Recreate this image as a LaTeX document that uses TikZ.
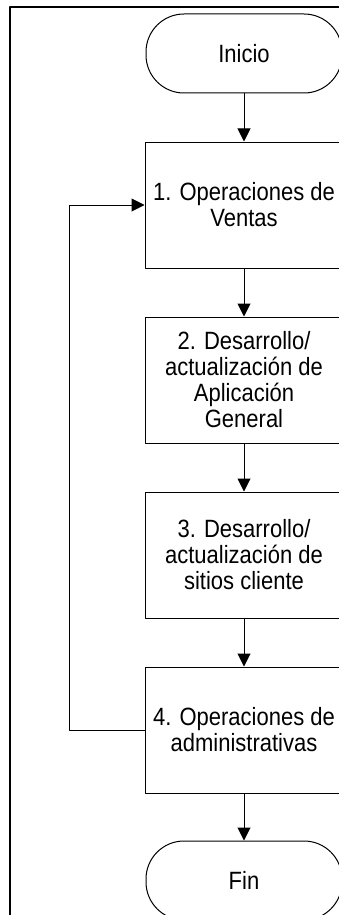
\documentclass[tikz,border=0pt]{standalone}
\usepackage{fontspec}
\setmainfont{Liberation Sans}[FakeStretch=0.88]
\usetikzlibrary{positioning,arrows.meta}

\begin{document}
\begin{tikzpicture}[x=1pt, y=-1pt, line join=round,
  caja/.style={draw, line width=1pt, minimum width=198pt, minimum height=126pt,
    align=center, inner sep=0pt, font=\fontsize{25}{26}\selectfont},
  terminal/.style={caja, minimum width=196pt, minimum height=79pt, rounded corners=38pt},
  flecha/.style={line width=1pt, -{Triangle[width=13pt,length=13pt]}}]
\useasboundingbox (0,0) rectangle (339,915);
\clip (0,0) rectangle (339,915);
\draw[line width=2.5pt] (10,915)--(10,7)--(339,7); % marco
\node[terminal] (inicio) at (244,53.5) {Inicio};
\node[caja, below=48pt of inicio] (op1) {1. Operaciones de\\Ventas};
\node[caja, below=48pt of op1] (op2) {2. Desarrollo/\\actualización de\\Aplicación\\General};
\node[caja, below=48pt of op2] (op3) {3. Desarrollo/\\actualización de\\sitios cliente};
\node[caja, below=48pt of op3] (op4) {4. Operaciones de\\administrativas};
\node[terminal, below=47pt of op4] (fin) {Fin};
\draw[flecha] (inicio)--(op1);
\draw[flecha] (op1)--(op2);
\draw[flecha] (op2)--(op3);
\draw[flecha] (op3)--(op4);
\draw[flecha] (op4)--(fin);
\draw[flecha] (op4.west)--++(-75,0) |- (op1.west); % retorno
\end{tikzpicture}
\end{document}
